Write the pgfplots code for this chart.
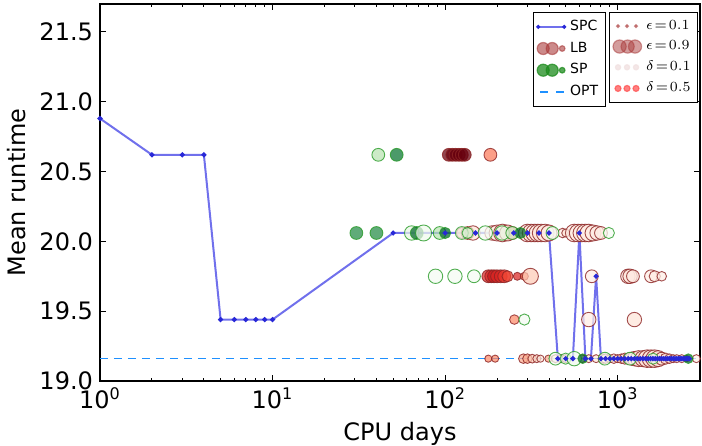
\documentclass[border=0pt]{standalone}
\usepackage{fontspec}
\setmainfont{DejaVu Sans}
\usepackage{pgfplots}
\usepackage{pgfplotstable}
\pgfplotsset{compat=1.18}

\definecolor{spcline}{RGB}{112,112,236}
\definecolor{spcdot}{RGB}{40,40,215}
\definecolor{optblue}{RGB}{30,144,255}
\definecolor{lbedge}{RGB}{140,35,35}
\definecolor{spedge}{RGB}{40,155,40}
\definecolor{lbleg}{RGB}{170,60,60}
\definecolor{spleg}{RGB}{30,140,30}

% SPC trajectory
\pgfplotstableread{
x y
1 20.88
2 20.62
3 20.62
4 20.62
5 19.44
6 19.44
7 19.44
8 19.44
9 19.44
10 19.44
50 20.06
100 20.06
150 20.06
200 20.06
250 20.06
300 20.06
350 20.06
400 20.06
450 19.16
500 19.16
550 19.16
600 20.06
650 19.16
700 19.16
750 19.75
800 19.16
850 19.16
900 19.16
950 19.16
1000 19.16
1050 19.16
1100 19.16
1150 19.16
1200 19.16
1250 19.16
1300 19.16
1350 19.16
1400 19.16
1450 19.16
1500 19.16
1550 19.16
1600 19.16
1650 19.16
1700 19.16
1750 19.16
1800 19.16
1850 19.16
1900 19.16
1950 19.16
2000 19.16
2050 19.16
2100 19.16
2150 19.16
2200 19.16
2250 19.16
2300 19.16
2350 19.16
2400 19.16
2450 19.16
2500 19.16
2550 19.16
2600 19.16
}\spcdata

% LB runs: x, y, e (epsilon), d (delta)
\pgfplotstableread{
x y e d
105 20.62 0.6 1.0
110 20.62 0.6 1.0
115 20.62 0.6 1.0
120 20.62 0.6 1.0
125 20.62 0.6 1.0
130 20.62 0.6 1.0
183 20.62 0.6 0.45
125 20.06 0.5 0.3
135 20.06 0.6 0.2
145 20.06 0.7 0.1
187 20.06 0.7 0.05
200 20.06 0.8 0.05
215 20.06 0.9 0.05
230 20.06 0.8 0.1
245 20.06 0.6 0.3
300 20.06 0.9 0.05
315 20.06 0.9 0.05
330 20.06 0.9 0.05
345 20.06 0.9 0.05
360 20.06 0.9 0.1
380 20.06 0.9 0.05
400 20.06 0.8 0.05
480 20.06 0.4 0.05
500 20.06 0.3 0.1
560 20.06 0.9 0.05
590 20.06 0.9 0.05
620 20.06 0.9 0.05
650 20.06 0.9 0.05
680 20.06 0.9 0.05
720 20.06 0.8 0.05
760 20.06 0.7 0.05
800 20.06 0.6 0.05
178 19.75 0.6 0.7
185 19.75 0.6 0.7
192 19.75 0.6 0.75
200 19.75 0.6 0.7
210 19.75 0.6 0.7
220 19.75 0.6 0.65
230 19.75 0.5 0.6
262 19.75 0.3 0.7
288 19.75 0.3 0.5
312 19.75 0.8 0.2
708 19.75 0.6 0.05
1146 19.75 0.7 0.05
1180 19.75 0.7 0.1
1226 19.75 0.6 0.05
1560 19.75 0.6 0.05
1640 19.75 0.5 0.05
1800 19.75 0.4 0.05
252 19.44 0.4 0.4
680 19.44 0.7 0.05
1250 19.44 0.7 0.1
178 19.16 0.25 0.4
195 19.16 0.25 0.4
284 19.16 0.4 0.3
300 19.16 0.4 0.3
320 19.16 0.35 0.2
340 19.16 0.3 0.15
357 19.16 0.25 0.1
397 19.16 0.25 0.3
436 19.16 0.3 0.1
470 19.16 0.3 0.1
499 19.16 0.3 0.1
620 19.16 0.3 0.1
680 19.16 0.3 0.1
750 19.16 0.3 0.1
820 19.16 0.4 0.1
850 19.16 0.4 0.1
900 19.16 0.3 0.1
950 19.16 0.4 0.1
1000 19.16 0.3 0.1
1050 19.16 0.4 0.1
1100 19.16 0.5 0.1
1150 19.16 0.5 0.1
1200 19.16 0.6 0.1
1250 19.16 0.7 0.1
1320 19.16 0.8 0.1
1400 19.16 0.8 0.1
1480 19.16 0.9 0.1
1560 19.16 0.9 0.1
1640 19.16 0.9 0.1
1720 19.16 0.8 0.1
1800 19.16 0.6 0.1
1900 19.16 0.5 0.1
2000 19.16 0.4 0.1
2100 19.16 0.3 0.1
2200 19.16 0.3 0.1
2350 19.16 0.3 0.1
2500 19.16 0.2 0.1
2857 19.16 0.3 0.02
}\lbdata

% SP runs: x, y, e (epsilon), d (delta)
\pgfplotstableread{
x y e d
41 20.62 0.6 0.3
52.4 20.62 0.6 0.85
30.6 20.06 0.6 0.75
40 20.06 0.6 0.75
64 20.06 0.7 0.1
68.5 20.06 0.6 0.9
75 20.06 0.8 0.05
93 20.06 0.6 0.3
100 20.06 0.5 0.9
125 20.06 0.6 0.05
135 20.06 0.5 0.2
171 20.06 0.7 0.02
214 20.06 0.7 0.1
245 20.06 0.6 0.2
273 20.06 0.5 0.9
419 20.06 0.6 0.02
889 20.06 0.5 0.02
88 19.75 0.7 0.02
114 19.75 0.7 0.02
147 19.75 0.6 0.02
288 19.44 0.5 0.02
436 19.16 0.6 0.02
499 19.16 0.5 0.05
560 19.16 0.7 0.05
627 19.16 0.4 0.9
842 19.16 0.6 0.02
1178 19.16 0.6 0.02
1603 19.16 0.5 0.1
2566 19.16 0.4 0.9
}\spdata

\pgfplotsset{
  colormap={reds}{rgb255=(255,245,240) rgb255=(254,224,210) rgb255=(252,187,161) rgb255=(252,146,114) rgb255=(251,106,74) rgb255=(239,59,44) rgb255=(203,24,29) rgb255=(165,15,21) rgb255=(103,0,13)},
  colormap={greens}{rgb255=(247,252,245) rgb255=(229,245,224) rgb255=(199,233,192) rgb255=(161,217,155) rgb255=(116,196,118) rgb255=(65,171,93) rgb255=(35,139,69) rgb255=(0,109,44) rgb255=(0,68,27)},
  runs/.style 2 args={scatter, only marks, forget plot, mark=*,
    colormap name=#1,
    point meta=\thisrow{d},
    scatter/use mapped color={draw=#2, fill=mapped color, fill opacity=0.72, draw opacity=0.8, line width=0.45pt},
    visualization depends on={0.8+4*\thisrow{e} \as \rad},
    scatter/@pre marker code/.append style={/tikz/mark size=\rad pt}},
  legbox/.style={legend style={draw=black, line width=0.6pt, fill=white,
    font=\fontsize{7}{8}\selectfont, cells={anchor=west},
    row sep=0.2pt, inner xsep=1.5pt, inner ysep=1.8pt}},
}

\begin{document}
\begin{tikzpicture}
\useasboundingbox (-50pt,-32pt) rectangle (301pt,190.5pt);
\begin{axis}[
  scale only axis,
  width=300pt, height=188.5pt,
  xmode=log, xmin=1, xmax=3000,
  ymin=19, ymax=21.7,
  xtick={1,10,100,1000},
  xticklabels={10\textsuperscript{0},10\textsuperscript{1},10\textsuperscript{2},10\textsuperscript{3}},
  ytick={19,19.5,20,20.5,21,21.5},
  yticklabels={19.0,19.5,20.0,20.5,21.0,21.5},
  minor y tick num=0,
  tick align=inside,
  major tick length=3pt, minor tick length=1.6pt,
  tick style={black, line width=0.5pt},
  axis line style={line width=0.7pt},
  tick label style={font=\fontsize{12}{14}\selectfont},
  label style={font=\fontsize{12}{14}\selectfont},
  xlabel={CPU days}, ylabel={Mean runtime},
  point meta min=0, point meta max=1,
  legbox,
  legend style={at={(0.843,0.979)}, anchor=north east},
]
\addplot[runs={reds}{lbedge}] table[x=x, y=y] {\lbdata};
\addplot[runs={greens}{spedge}] table[x=x, y=y] {\spdata};
\addplot[forget plot, optblue, line width=0.7pt, dash pattern=on 4pt off 3pt]
  coordinates {(1,19.16) (3000,19.16)};
\addplot[forget plot, spcline, line width=1pt, mark=*, mark size=0.7pt,
  mark options={fill=spcdot, draw=spcdot}]
  table[x=x, y=y] {\spcdata};

\addlegendimage{legend image code/.code={
  \draw[spcline, line width=1pt] (0pt,0pt) -- (13pt,0pt);
  \fill[spcdot] (0pt,0pt) circle (0.7pt) (13pt,0pt) circle (0.7pt);}}
\addlegendentry{SPC}
\addlegendimage{legend image code/.code={
  \fill[lbleg, opacity=0.6] (2.5pt,0pt) circle (3pt);
  \fill[lbleg, opacity=0.6] (7pt,0pt) circle (3pt);
  \fill[lbleg, opacity=0.6] (12pt,0pt) circle (1.4pt);}}
\addlegendentry{LB}
\addlegendimage{legend image code/.code={
  \fill[spleg, opacity=0.75] (2.5pt,0pt) circle (3pt);
  \fill[spleg, opacity=0.75] (7pt,0pt) circle (3pt);
  \fill[spleg, opacity=0.75] (12pt,0pt) circle (1.4pt);}}
\addlegendentry{SP}
\addlegendimage{legend image code/.code={
  \draw[optblue, line width=0.7pt] (1pt,0pt) -- (5pt,0pt) (9pt,0pt) -- (13pt,0pt);}}
\addlegendentry{OPT}
\end{axis}

\begin{axis}[
  scale only axis,
  width=300pt, height=188.5pt,
  hide axis, xmin=0, xmax=1, ymin=0, ymax=1,
  legbox,
  legend style={at={(0.997,0.979)}, anchor=north east},
]
\addlegendimage{legend image code/.code={
  \fill[lbleg, opacity=0.55] (2pt,0pt) circle (0.75pt) (6.5pt,0pt) circle (0.75pt) (11pt,0pt) circle (0.75pt);}}
\addlegendentry{$\epsilon\!=\!0.1$}
\addlegendimage{legend image code/.code={
  \fill[lbleg, opacity=0.5] (2.8pt,0pt) circle (3.3pt);
  \fill[lbleg, opacity=0.5] (6.8pt,0pt) circle (3.3pt);
  \fill[lbleg, opacity=0.5] (10.5pt,0pt) circle (3.3pt);}}
\addlegendentry{$\epsilon\!=\!0.9$}
\addlegendimage{legend image code/.code={
  \fill[lbleg!15, opacity=0.8] (2pt,0pt) circle (1.3pt) (6.5pt,0pt) circle (1.3pt) (11pt,0pt) circle (1.3pt);}}
\addlegendentry{$\delta\!=\!0.1$}
\addlegendimage{legend image code/.code={
  \fill[red!70!white, opacity=0.7] (2pt,0pt) circle (1.5pt) (6.5pt,0pt) circle (1.5pt) (11pt,0pt) circle (1.5pt);}}
\addlegendentry{$\delta\!=\!0.5$}
\end{axis}
\end{tikzpicture}
\end{document}
